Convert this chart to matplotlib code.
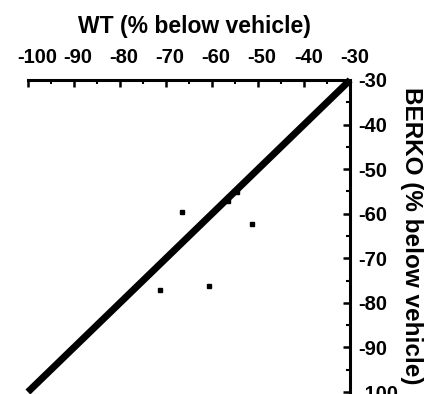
import matplotlib.pyplot as plt
from matplotlib.transforms import ScaledTranslation

plt.rcParams['font.family'] = ['Liberation Sans', 'DejaVu Sans']
plt.rcParams['font.weight'] = 'bold'
plt.rcParams['axes.unicode_minus'] = False

# WT vs BERKO (% below vehicle)
wt = [-66.5, -54.6, -56.5, -51.3, -71.3, -60.7]
berko = [-59.6, -55.1, -57.1, -62.4, -77.1, -76.2]
identity = [-100, -30]
ticks = [-100, -90, -80, -70, -60, -50, -40, -30]

fig = plt.figure(figsize=(4.36, 3.94), dpi=100)
ax = fig.add_axes([0.064, 0.005, 0.739, 0.792])

ax.plot(identity, identity, color='black', lw=5, solid_capstyle='butt', clip_on=False)
ax.plot(wt, berko, 's', color='black', ms=3.5)

ax.set_xlim(-100, -30)
ax.set_ylim(-100, -30)

ax.xaxis.tick_top()
ax.xaxis.set_label_position('top')
ax.yaxis.tick_right()
ax.yaxis.set_label_position('right')
for s in ['left', 'bottom']:
    ax.spines[s].set_visible(False)
for s in ['top', 'right']:
    ax.spines[s].set_linewidth(2.2)

ax.set_xticks(ticks)
ax.set_yticks(ticks)
ax.set_xticks(range(-95, -30, 10), minor=True)
ax.set_yticks(range(-95, -30, 10), minor=True)
ax.tick_params(which='major', direction='in', length=5, width=1.8, labelsize=14.5)
ax.tick_params(axis='x', which='major', pad=9)
ax.tick_params(axis='y', which='major', pad=6)
ax.tick_params(which='minor', direction='in', length=3, width=1.5)

# labels on the top axis sit a little right of their ticks
for i, lab in enumerate(ax.get_xticklabels()):
    dx = 6.5 if i == 0 else 3
    lab.set_transform(lab.get_transform() +
                      ScaledTranslation(dx / 72, 0, fig.dpi_scale_trans))

ax.set_xlabel('WT (% below vehicle)', fontsize=16.5, fontweight='bold', labelpad=11)
ax.xaxis.label.set_x(0.518)
ax.set_ylabel('BERKO (% below vehicle)', fontsize=17.5, fontweight='bold',
              rotation=270, labelpad=18)

fig.savefig('out.png', dpi=100)
